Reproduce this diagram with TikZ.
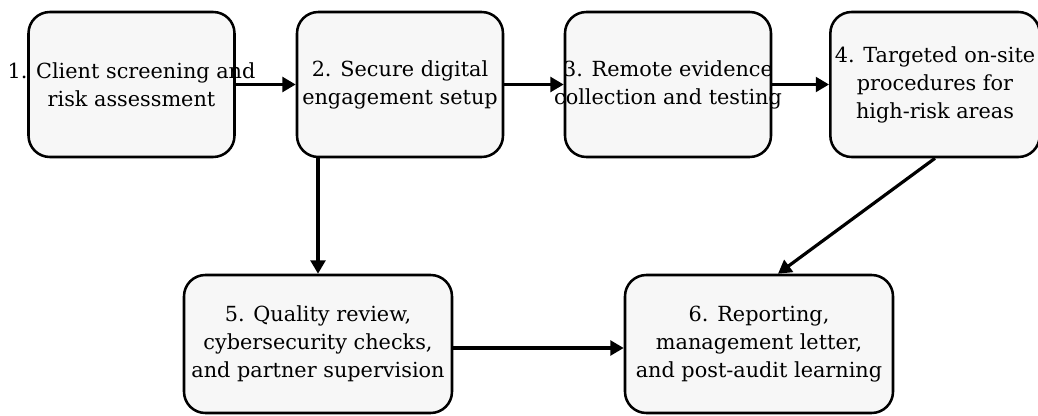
\documentclass[tikz,border=0pt]{standalone}
\usepackage{fontspec}
\setmainfont{DejaVu Serif}
\usetikzlibrary{arrows.meta}
\definecolor{boxgray}{HTML}{F7F7F7}
\tikzset{
  stage/.style={draw, line width=1.9pt, rounded corners=16pt, fill=boxgray,
    align=center, font=\fontsize{15.6}{21}\selectfont,
    minimum width=154.5pt, minimum height=108.75pt},
  widestage/.style={stage, minimum width=201pt, minimum height=103.5pt},
  flow/.style={-{Triangle[length=10pt,width=11pt]}, line width=2.4pt}
}
\newcommand{\spill}[1]{\makebox[0pt]{#1}}

\begin{document}
\begin{tikzpicture}[x=0.75pt,y=-0.75pt]
    \useasboundingbox (0,0) rectangle (1038,416);
    % top row
    \node[stage] (s1) at (131.5,84.5) {\spill{1. Client screening and}\\ \spill{risk assessment}};
    \node[stage] (s2) at (400,84.5) {2. Secure digital\\ engagement setup};
    \node[stage] (s3) at (668,84.5) {\spill{3. Remote evidence}\\ \spill{collection and testing}};
    \node[stage, minimum width=152.25pt] (s4) at (935,84.5) {4. Targeted on-site\\ procedures for\\ high-risk areas};
    % bottom row
    \node[widestage] (s5) at (318,344) {5. Quality review,\\ cybersecurity checks,\\ and partner supervision};
    \node[widestage] (s6) at (759,344) {6. Reporting,\\ management letter,\\ and post-audit learning};
    % connectors
    \draw[flow] (s1) -- (s2);
    \draw[flow] (s2) -- (s3);
    \draw[flow] (s3) -- (s4);
    \draw[flow] (s2.south -| s5.north) -- (s5.north);
    \draw[flow] (s4.south) -- ([xshift=14.25pt]s6.north);
    \draw[flow] ([yshift=-3pt]s5.east) -- ([yshift=-3pt]s6.west);
\end{tikzpicture}
\end{document}
